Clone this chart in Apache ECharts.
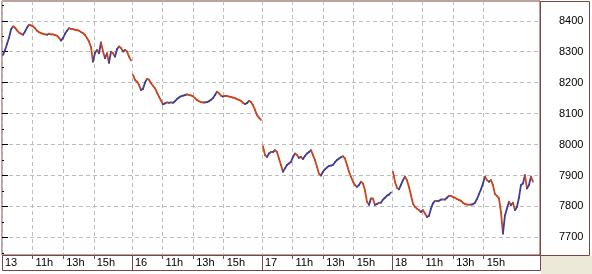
<!DOCTYPE html>
<html><head><meta charset="utf-8">
<script src="https://cdn.jsdelivr.net/npm/echarts@6/dist/echarts.min.js"></script>
<style>html,body{margin:0;padding:0;background:#fff}#c{width:592px;height:274px}</style>
</head><body><div id="c"></div>
<script>
// ---- data ----
const dayLabels = ['13', '16', '17', '18'];
const hourLabels = ['11h', '13h', '15h'];
const hourValues = [11, 13, 15];
const sessionOpen = 9, sessionClose = 17.5;
const barsPerSession = 65;

const day13 = [8290,8305,8325,8345,8372,8382,8378,8369,8362,8358,8355,8365,8378,8387,8385,8382,8376,8368,8363,8360,
  8358,8356,8355,8358,8356,8356,8354,8352,8345,8336,8344,8358,8368,8376,8374,8373,8371,8370,8368,8364,
  8360,8354,8344,8333,8315,8268,8296,8306,8295,8330,8301,8279,8295,8264,8300,8295,8284,8308,8317,8312,
  8301,8306,8301,8284,8272];
const day16 = [8225,8209,8203,8193,8176,8180,8200,8212,8210,8198,8190,8182,8168,8155,8142,8130,8133,8136,8135,8136,
  8135,8140,8147,8152,8156,8158,8160,8162,8160,8159,8156,8150,8144,8140,8137,8136,8136,8137,8140,8145,
  8150,8160,8171,8166,8158,8155,8157,8157,8155,8154,8152,8150,8147,8144,8141,8135,8131,8134,8141,8138,
  8127,8112,8095,8087,8080];
const day17 = [7995,7966,7960,7971,7976,7976,7982,7976,7955,7934,7912,7923,7934,7939,7944,7960,7971,7966,7957,7960,
  7953,7963,7971,7976,7982,7966,7950,7928,7906,7900,7912,7920,7926,7931,7932,7934,7943,7950,7955,7959,
  7962,7955,7934,7912,7896,7880,7869,7863,7869,7880,7874,7852,7815,7805,7826,7825,7805,7808,7812,7812,
  7822,7828,7835,7838,7845];
const day18 = [7912,7880,7860,7855,7870,7885,7896,7885,7863,7836,7809,7799,7793,7788,7782,7788,7777,7766,7770,7793,
  7810,7818,7817,7818,7822,7823,7822,7828,7834,7834,7831,7828,7824,7821,7818,7812,7808,7806,7806,7806,
  7807,7812,7824,7840,7855,7874,7896,7885,7880,7885,7869,7840,7834,7826,7782,7712,7771,7793,7815,7804,
  7812,7788,7798,7828,7869,7874,7901,7858,7869,7896,7880];
const days = [day13, day16, day17, day18];

const yTicks = [7700, 7800, 7900, 8000, 8100, 8200, 8300, 8400];
const yMinorTicks = [7650, 7750, 7850, 7950, 8050, 8150, 8250, 8350, 8450];

// ---- build ----
const sessionLen = sessionClose - sessionOpen;
const step = sessionLen / barsPerSession;
const segs = [];
days.forEach((arr, d) => {
  for (let i = 1; i < arr.length; i++) {
    segs.push([d * sessionLen + (i - 0.5) * step, arr[i - 1], d * sessionLen + (i + 0.5) * step, arr[i]]);
  }
});
const tickValues = [], tickTexts = [], dayStarts = [];
dayLabels.forEach((lab, d) => {
  tickValues.push(d * sessionLen); tickTexts.push(lab); dayStarts.push(d * sessionLen);
  hourValues.forEach((h, k) => { tickValues.push(d * sessionLen + h - sessionOpen); tickTexts.push(hourLabels[k]); });
});
const tickMap = {};
tickValues.forEach((v, i) => tickMap[v.toFixed(2)] = tickTexts[i]);

const frame = '#7a4545';
const font = "'Liberation Sans', Arial, sans-serif";
const xMax = 35.18, yMin = 7643, yMax = 8464;

const chart = echarts.init(document.getElementById('c'), null, {renderer: 'canvas'});
chart.setOption({
  animation: false,
  backgroundColor: '#ffffff',
  grid: {left: 2, top: 1, right: 52, bottom: 19, show: true, backgroundColor: '#fff', borderColor: frame, borderWidth: 1},
  graphic: [
    {type: 'rect', shape: {x: 540.5, y: 1.5, width: 49, height: 254}, style: {fill: null, stroke: frame, lineWidth: 1}, z: 100},
    {type: 'rect', shape: {x: 541, y: 256, width: 51, height: 18}, style: {fill: '#ece9d8'}, z: 0},
    {type: 'rect', shape: {x: 2.5, y: 255.5, width: 538, height: 15}, style: {fill: null, stroke: frame, lineWidth: 1}, z: 100}
  ],
  xAxis: [{
    type: 'value', min: 0, max: xMax, position: 'bottom',
    axisLine: {show: false},
    axisTick: {show: true, customValues: tickValues, length: 4, lineStyle: {color: frame}},
    axisLabel: {customValues: tickValues, formatter: v => tickMap[(+v).toFixed(2)] || '', align: 'left',
      padding: [0, 0, 0, 3], margin: 2, fontSize: 11, color: '#000', fontFamily: font},
    splitLine: {show: true, lineStyle: {color: '#bdbdbd', type: [4, 3], width: 1}}
  }, {
    type: 'value', min: 0, max: xMax, position: 'bottom',
    axisLine: {show: false},
    axisTick: {show: true, customValues: dayStarts, length: 15, lineStyle: {color: frame}},
    axisLabel: {show: false}, splitLine: {show: false}
  }],
  yAxis: [{
    type: 'value', min: yMin, max: yMax, position: 'right',
    axisLine: {show: false},
    axisTick: {show: true, customValues: yTicks, length: 6, lineStyle: {color: '#000'}},
    axisLabel: {customValues: yTicks, formatter: v => String(Math.round(v)), margin: 19, fontSize: 11, color: '#000', fontFamily: font},
    splitLine: {show: true, lineStyle: {color: '#bdbdbd', type: [4, 3], width: 1}}
  }, {
    type: 'value', min: yMin, max: yMax, position: 'right',
    axisLine: {show: false},
    axisTick: {show: true, customValues: yMinorTicks, length: 2, lineStyle: {color: '#000'}},
    axisLabel: {show: false}, splitLine: {show: false}
  }],
  series: [{
    type: 'custom', xAxisIndex: 0, yAxisIndex: 0, clip: true,
    data: segs,
    encode: {x: [0, 2], y: [1, 3]},
    renderItem: (params, api) => {
      const p0 = api.coord([api.value(0), api.value(1)]);
      const p1 = api.coord([api.value(2), api.value(3)]);
      const up = api.value(3) > api.value(1);
      return {type: 'line', shape: {x1: p0[0], y1: p0[1], x2: p1[0], y2: p1[1]},
        style: {stroke: up ? '#3f3f98' : '#c9461f', lineWidth: 1.8, lineCap: 'round'}};
    }
  }]
});
</script></body></html>
